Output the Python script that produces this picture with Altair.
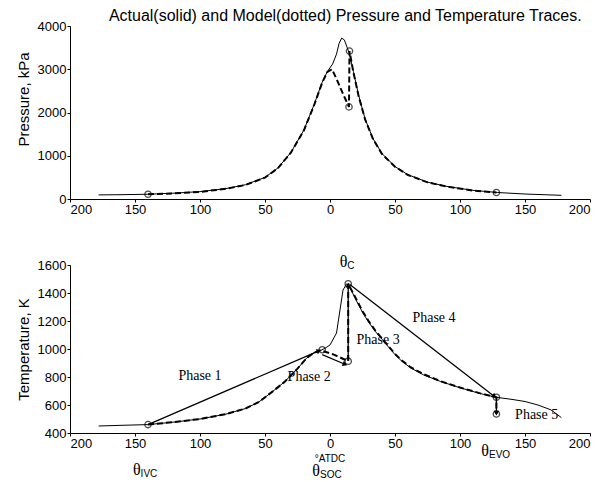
import math
import altair as alt
import pandas as pd

# ---------------- data ----------------
X_TICKS = [-200, -150, -100, -50, 0, 50, 100, 150, 200]
P_TICKS = [0, 1000, 2000, 3000, 4000]
T_TICKS = [400, 600, 800, 1000, 1200, 1400, 1600]

# Pressure, actual (solid)
p_act_x = [-178, -160, -140, -120, -100, -80, -65, -50, -40, -30, -20, -12, -6, -2, 2, 5, 7, 9, 11, 13, 15, 18, 22, 27, 33, 40, 50, 60, 75, 90, 110, 129, 150, 178]
p_act_y = [95, 100, 110, 135, 170, 240, 330, 500, 720, 1080, 1600, 2200, 2700, 2950, 3120, 3350, 3600, 3720, 3680, 3520, 3350, 2950, 2400, 1850, 1400, 1050, 750, 560, 390, 290, 200, 150, 115, 85]
# Pressure, model (dotted)
p_mod_x = [-140, -120, -100, -80, -65, -50, -40, -30, -20, -12, -6, -2, 1.5, 5, 9, 12, 14.6, 15, 18, 22, 27, 33, 40, 50, 60, 75, 90, 110, 128]
p_mod_y = [110, 130, 165, 235, 325, 495, 715, 1075, 1590, 2190, 2690, 2940, 3000, 2780, 2500, 2300, 2130, 3420, 2930, 2380, 1840, 1390, 1040, 745, 555, 385, 285, 195, 150]
p_circ_x = [-140, 14.6, 15, 128]
p_circ_y = [110, 2130, 3420, 150]

# Temperature, actual (solid)
t_act_x = [-178, -160, -140, -120, -100, -80, -65, -55, -45, -35, -25, -18, -12, -7, -3, 0, 5, 7.7, 10, 12.8, 15, 20, 25, 30, 35, 40, 45, 50, 55, 62, 72, 85, 100, 115, 128, 140, 150, 160, 170, 178]
t_act_y = [450, 455, 460, 478, 500, 535, 575, 620, 690, 765, 860, 935, 975, 990, 1010, 1029, 1114, 1279, 1421, 1466, 1445, 1350, 1262, 1188, 1124, 1070, 1015, 960, 915, 865, 815, 768, 723, 683, 655, 640, 625, 600, 565, 510]
# Temperature, model (dotted)
t_mod_x = [-140, -120, -100, -80, -65, -55, -45, -35, -25, -18, -12, -7, 3, 14, 14, 20, 25, 30, 35, 40, 45, 50, 55, 62, 72, 85, 100, 115, 128, 128]
t_mod_y = [460, 478, 500, 535, 575, 620, 690, 765, 860, 935, 975, 990, 960, 913, 1466, 1360, 1270, 1195, 1130, 1075, 1020, 965, 920, 870, 820, 770, 725, 685, 655, 536]
t_circ_x = [-140, -6, 14, 14, 128, 128]
t_circ_y = [460, 995, 913, 1466, 655, 536]

# Phase arrows (solid straight lines)
ph_x1 = [-140, -6, 14, 15, 128]
ph_y1 = [460, 960, 925, 1462, 648]
ph_x2 = [-9, 11, 14, 126, 128]
ph_y2 = [985, 893, 1450, 665, 548]

# Phase labels
ph_text = ["Phase 1", "Phase 2", "Phase 3", "Phase 4", "Phase 5"]
ph_lx = [-100, -16, 37, 80, 159]
ph_ly = [805, 800, 1062, 1222, 527]

# Theta labels (main glyph + subscript)
th_x = [11, -148, -10, 120]
th_y = [1618, 135, 128, 272]
th_sub = ["C", "IVC", "SOC", "EVO"]
atdc_x = [0]
atdc_y = [212]
atdc_text = ["°ATDC"]

TITLE = "Actual(solid) and Model(dotted) Pressure and Temperature Traces."

# ---------------- layout ----------------
W, H_TOP, H_BOT = 520, 173, 168
X_DOM = [-200, 200]
P_DOM = [0, 4000]
T_DOM = [400, 1600]

xs = alt.Scale(domain=X_DOM, nice=False, zero=False)
x_axis = alt.Axis(values=X_TICKS, labelExpr="format(abs(datum.value), 'd')", title=None)

def xenc(field):
    return alt.X(field, type="quantitative", scale=xs, axis=x_axis)

# ---------- top panel ----------
ps = alt.Scale(domain=P_DOM, nice=False, zero=False)
p_axis = alt.Axis(values=P_TICKS, format="d", title="Pressure, kPa", titleY=73)

df_pa = pd.DataFrame({"x": p_act_x, "y": p_act_y, "i": range(len(p_act_x))})
df_pm = pd.DataFrame({"x": p_mod_x, "y": p_mod_y, "i": range(len(p_mod_x))})
df_pc = pd.DataFrame({"x": p_circ_x, "y": p_circ_y})

p_actual = alt.Chart(df_pa).mark_line(color="black", strokeWidth=1).encode(
    x=xenc("x"), y=alt.Y("y:Q", scale=ps, axis=p_axis), order="i:Q")
p_model = alt.Chart(df_pm).mark_line(color="black", strokeWidth=2, strokeDash=[6, 3]).encode(
    x=xenc("x"), y=alt.Y("y:Q", scale=ps, axis=p_axis), order="i:Q")
p_circ = alt.Chart(df_pc).mark_point(shape="circle", filled=False, color="black", size=40, strokeWidth=1.3).encode(
    x=xenc("x"), y=alt.Y("y:Q", scale=ps, axis=p_axis))

top = alt.layer(p_actual, p_model, p_circ).properties(width=W, height=H_TOP)

# ---------- bottom panel ----------
ts = alt.Scale(domain=T_DOM, nice=False, zero=False)
t_axis = alt.Axis(values=T_TICKS, format="d", title="Temperature, K")

df_ta = pd.DataFrame({"x": t_act_x, "y": t_act_y, "i": range(len(t_act_x))})
df_tm = pd.DataFrame({"x": t_mod_x, "y": t_mod_y, "i": range(len(t_mod_x))})
df_tc = pd.DataFrame({"x": t_circ_x, "y": t_circ_y})
df_ph = pd.DataFrame({"x": ph_x1, "y": ph_y1, "x2": ph_x2, "y2": ph_y2})

# arrowhead direction from segment geometry (clockwise from up, in screen pixels)
kx = W / (X_DOM[1] - X_DOM[0])
ky = H_BOT / (T_DOM[1] - T_DOM[0])
angles = [(math.degrees(math.atan2((b - a) * kx, (d - c) * ky)) + 360) % 360
          for a, b, c, d in zip(ph_x1, ph_x2, ph_y1, ph_y2)]
df_ah = pd.DataFrame({"x": ph_x2, "y": ph_y2, "ang": angles})

df_pl = pd.DataFrame({"x": ph_lx, "y": ph_ly, "t": ph_text})
df_th = pd.DataFrame({"x": th_x, "y": th_y, "t": ["θ"] * len(th_x), "s": th_sub})
df_atdc = pd.DataFrame({"x": atdc_x, "y": atdc_y, "t": atdc_text})

def yenc():
    return alt.Y("y:Q", scale=ts, axis=t_axis)

t_actual = alt.Chart(df_ta).mark_line(color="black", strokeWidth=1).encode(
    x=xenc("x"), y=yenc(), order="i:Q")
t_model = alt.Chart(df_tm).mark_line(color="black", strokeWidth=2, strokeDash=[6, 3]).encode(
    x=xenc("x"), y=yenc(), order="i:Q")
t_phase = alt.Chart(df_ph).mark_rule(color="black", strokeWidth=1.3).encode(
    x=xenc("x"), y=yenc(), x2="x2:Q", y2="y2:Q")
t_heads = alt.Chart(df_ah).mark_point(shape="triangle", filled=True, color="black", size=30, opacity=1).encode(
    x=xenc("x"), y=yenc(), angle=alt.Angle("ang:Q", scale=None))
t_circ = alt.Chart(df_tc).mark_point(shape="circle", filled=False, color="black", size=40, strokeWidth=1.3).encode(
    x=xenc("x"), y=yenc())
t_labels = alt.Chart(df_pl).mark_text(font="Liberation Serif", fontSize=14, color="black").encode(
    x=xenc("x"), y=yenc(), text="t:N")
t_theta = alt.Chart(df_th).mark_text(font="Liberation Serif", fontSize=16, color="black", align="right", dx=3).encode(
    x=xenc("x"), y=yenc(), text="t:N")
t_sub = alt.Chart(df_th).mark_text(font="Liberation Sans", fontSize=10, color="black", align="left", dx=3, dy=4).encode(
    x=xenc("x"), y=yenc(), text="s:N")
t_atdc = alt.Chart(df_atdc).mark_text(font="Liberation Sans", fontSize=10, color="black").encode(
    x=xenc("x"), y=yenc(), text="t:N")

bottom = alt.layer(t_actual, t_model, t_phase, t_heads, t_circ, t_labels, t_theta, t_sub, t_atdc).properties(
    width=W, height=H_BOT)

chart = alt.vconcat(top, bottom, spacing=38).properties(
    title=alt.TitleParams(text=TITLE, font="Liberation Sans", fontSize=16, fontWeight="normal",
                          anchor="middle", dx=42, offset=-4, color="black"),
    padding={"left": 8, "top": 0, "right": 5, "bottom": 0},
    background="white",
).configure_view(stroke=None).configure_axis(
    grid=False, domainColor="black", domainWidth=1, tickColor="black", tickSize=3,
    labelColor="black", labelFont="Liberation Sans", labelFontSize=13, labelPadding=1,
    titleColor="black", titleFont="Liberation Sans", titleFontSize=15, titleFontWeight="normal",
    titlePadding=6,
)

chart.save("out.html", embed_options={"renderer": "svg", "actions": False})
